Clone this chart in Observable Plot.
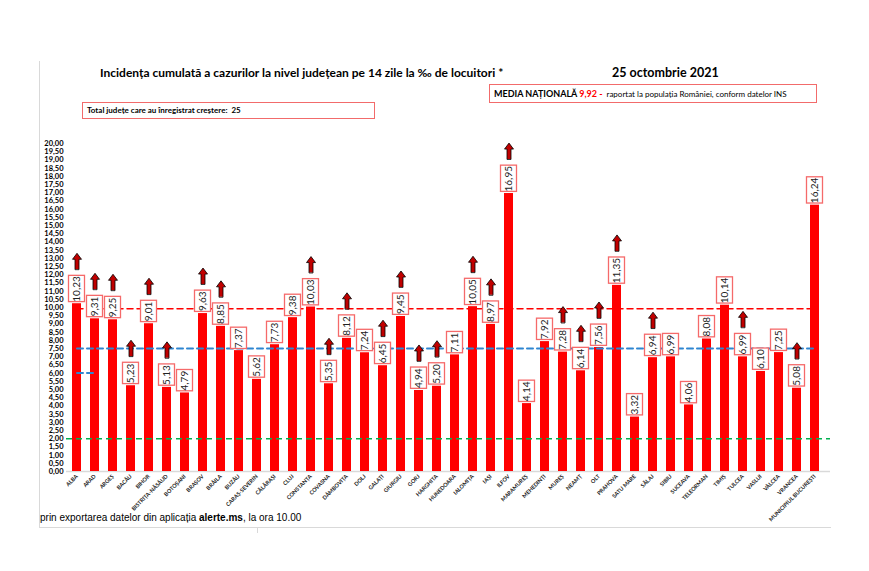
<!DOCTYPE html>
<html>
<head>
<meta charset="utf-8">
<script src="https://cdn.jsdelivr.net/npm/d3@7"></script>
<script src="https://cdn.jsdelivr.net/npm/@observablehq/plot@0.6"></script>
<style>
  html, body { margin: 0; padding: 0; background: #fff; }
  #page { position: relative; width: 869px; height: 571px; overflow: hidden; font-family: Lato, "Open Sans", sans-serif; }
  .abs { position: absolute; white-space: nowrap; }
  #title { left: 100px; top: 65px; font-size: 12px; font-weight: bold; color: #000; }
  #date { left: 612px; top: 65px; font-size: 12.5px; font-weight: bold; color: #000; }
  #media { left: 489px; top: 84px; width: 322px; height: 17px; border: 1.5px solid #f26b6b; font-size: 9px; line-height: 17px; padding-left: 4px; box-sizing: content-box; }
  #media b { font-weight: bold; }
  #media .red { color: #ff0000; font-weight: bold; }
  #media .rest { font-size: 8px; margin-left: 4px; }
  #total { left: 82px; top: 102px; width: 287px; height: 15px; border: 1.5px solid #f26b6b; font-size: 8px; font-weight: bold; line-height: 15px; padding-left: 4px; }
  #footer { left: 40px; top: 512px; font-family: "Liberation Sans", Arial, sans-serif; font-size: 10px; color: #000; }
  #chart { position: absolute; left: 0; top: 130px; }
  .vline { position: absolute; background: #d9d9d9; }
</style>
</head>
<body>
<div id="page">
  <div class="vline" style="left:39px; top:61px; width:1px; height:466px;"></div>
  <div class="vline" style="left:39px; top:527px; width:792px; height:1px;"></div>
  <div class="vline" style="left:257px; top:527px; width:1px; height:6px;"></div>
  <div id="chart"></div>
  <div class="abs" id="title">Incidența cumulată a cazurilor la nivel județean pe 14 zile la ‰ de locuitori *</div>
  <div class="abs" id="date">25 octombrie 2021</div>
  <div class="abs" id="media"><b>MEDIA NAȚIONALĂ </b><span class="red">9,92 -</span><span class="rest">raportat la populația României, conform datelor INS</span></div>
  <div class="abs" id="total">Total județe care au înregistrat creștere:&nbsp; 25</div>
  <div class="abs" id="footer">prin exportarea datelor din aplicația <b>alerte.ms</b>, la ora 10.00</div>
</div>
<script>
const counties = ["ALBA","ARAD","ARGEȘ","BACĂU","BIHOR","BISTRIȚA-NĂSĂUD","BOTOȘANI","BRAȘOV","BRĂILA","BUZĂU","CARAȘ-SEVERIN","CĂLĂRAȘI","CLUJ","CONSTANȚA","COVASNA","DÂMBOVIȚA","DOLJ","GALAȚI","GIURGIU","GORJ","HARGHITA","HUNEDOARA","IALOMIȚA","IAȘI","ILFOV","MARAMUREȘ","MEHEDINȚI","MUREȘ","NEAMȚ","OLT","PRAHOVA","SATU MARE","SĂLAJ","SIBIU","SUCEAVA","TELEORMAN","TIMIȘ","TULCEA","VASLUI","VÂLCEA","VRANCEA","MUNICIPIUL BUCUREȘTI"];
const values = [10.23,9.31,9.25,5.23,9.01,5.13,4.79,9.63,8.85,7.37,5.62,7.73,9.38,10.03,5.35,8.12,7.24,6.45,9.45,4.94,5.20,7.11,10.05,8.97,16.95,4.14,7.92,7.28,6.14,7.56,11.35,3.32,6.94,6.99,4.06,8.08,10.14,6.99,6.10,7.25,5.08,16.24];
const increased = [1,1,1,1,1,1,0,1,1,0,0,0,0,1,1,1,0,1,1,1,1,0,1,1,1,0,0,1,1,1,1,0,1,0,0,0,0,1,0,0,1,0];
const nationalAverage = 9.92;
const blueLevel = 7.5;
const greenLevel = 2.0;
const smallBlueLevel = 6.0;
const yTicks = d3.range(0, 20.001, 0.5);

const fmt = v => v.toFixed(2).replace(".", ",");
const data = counties.map((c, i) => {
  const label = fmt(values[i]);
  const y1 = values[i] + 0.1;
  const y2 = y1 + (label.length >= 5 ? 1.6 : 1.3);
  return {county: c, value: values[i], up: increased[i] === 1, label, y1, y2, ym: (y1 + y2) / 2};
});

const refLine = (level, from, to) => counties.slice(from, to).map(c => ({county: c, level}));

const blockArrow = {
  draw(ctx, l) {
    const h = 6;
    ctx.moveTo(-2, 0);
    ctx.lineTo(-2, -l + h);
    ctx.lineTo(-4.5, -l + h);
    ctx.lineTo(0, -l);
    ctx.lineTo(4.5, -l + h);
    ctx.lineTo(2, -l + h);
    ctx.lineTo(2, 0);
    ctx.closePath();
  }
};

const chart = Plot.plot({
  width: 869,
  height: 400,
  marginLeft: 66,
  marginRight: 44,
  marginTop: 13,
  marginBottom: 59,
  style: {background: "transparent", fontFamily: "Lato, sans-serif", overflow: "visible"},
  x: {domain: counties, paddingInner: 0.5, paddingOuter: 0.25, label: null},
  y: {domain: [0, 20], label: null},
  marks: [
    Plot.ruleY([0], {stroke: "#d9d9d9", strokeWidth: 1.5, insetRight: -5}),
    Plot.barY(data, {x: "county", y: "value", fill: "#ff0000"}),
    Plot.ruleY([greenLevel], {stroke: "#00b050", strokeWidth: 1.5, strokeDasharray: "6,4", insetRight: -5}),
    Plot.line(refLine(blueLevel, 0, counties.length), {x: "county", y: "level", stroke: "#2e86d1", strokeWidth: 2, strokeDasharray: "6,4"}),
    Plot.line(refLine(smallBlueLevel, 0, 2), {x: "county", y: "level", stroke: "#2e86d1", strokeWidth: 2, strokeDasharray: "6,4"}),
    Plot.line(refLine(nationalAverage, 0, counties.length), {x: "county", y: "level", stroke: "#ff0000", strokeWidth: 1.5, strokeDasharray: "6,4"}),
    Plot.barY(data, {x: "county", y1: "y1", y2: "y2", fill: "white", stroke: "#f56a6a", strokeWidth: 1.3, insetLeft: -3.5, insetRight: -3.5}),
    Plot.text(data, {x: "county", y: "ym", text: "label", rotate: -90, fontSize: 10, fill: "#222"}),
    Plot.vector(data.filter(d => d.up), {x: "county", y: d => d.y2 + 0.4, length: 16, anchor: "start", rotate: 0, shape: blockArrow, fill: "#c00000", stroke: "#000", strokeWidth: 0.8}),
    Plot.axisY({ticks: yTicks, tickFormat: fmt, tickSize: 0, tickPadding: 3, fontSize: 7.5, fontWeight: "bold", fill: "#000"}),
    Plot.axisX({tickSize: 0, tickPadding: 4, tickRotate: -45, fontSize: 5.5, fontWeight: "bold", fill: "#222"})
  ]
});
document.getElementById("chart").appendChild(chart);
</script>
</body>
</html>
